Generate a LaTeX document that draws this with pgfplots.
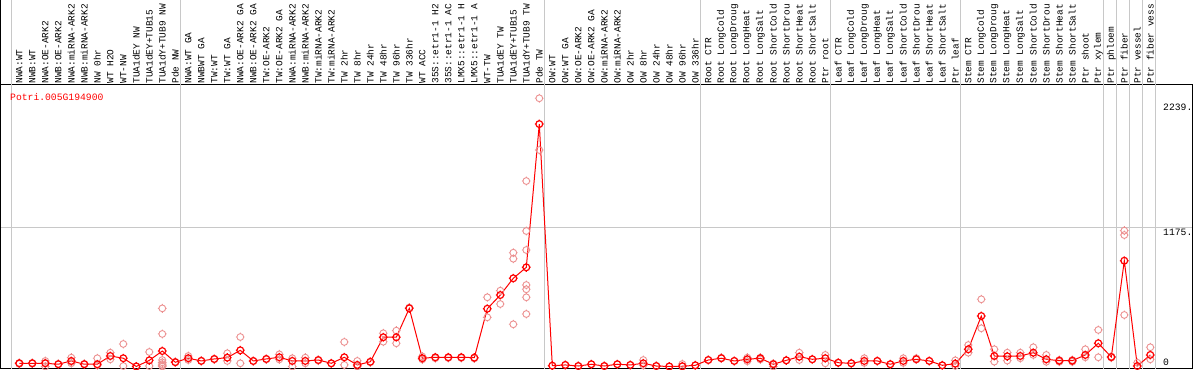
\documentclass[border=0pt]{standalone}
\usepackage{fontspec}
\setmainfont{Liberation Mono}
\usepackage{pgfplots}
\usepackage{pgfplotstable}
\pgfplotsset{compat=1.18}
\definecolor{rep}{RGB}{236,145,145}
\definecolor{gridc}{RGB}{200,200,200}
\pgfdeclareplotmark{sunc}{%
  \pgfpathcircle{\pgfpointorigin}{\pgfplotmarksize}%
  \pgfpathmoveto{\pgfqpoint{0pt}{\pgfplotmarksize}}\pgfpathlineto{\pgfqpoint{0pt}{1.3\pgfplotmarksize}}%
  \pgfpathmoveto{\pgfqpoint{0pt}{-\pgfplotmarksize}}\pgfpathlineto{\pgfqpoint{0pt}{-1.3\pgfplotmarksize}}%
  \pgfpathmoveto{\pgfqpoint{\pgfplotmarksize}{0pt}}\pgfpathlineto{\pgfqpoint{1.3\pgfplotmarksize}{0pt}}%
  \pgfpathmoveto{\pgfqpoint{-\pgfplotmarksize}{0pt}}\pgfpathlineto{\pgfqpoint{-1.3\pgfplotmarksize}{0pt}}%
  \pgfusepathqstroke}
\pgfplotstableread{
x y
0 27
1 27
2 27
3 19
4 47
5 19
6 19
7 89
8 70
9 0
10 52
11 131
12 36
13 70
14 47
15 64
16 75
17 137
18 47
19 64
20 78
21 47
22 47
23 55
24 27
25 78
26 13
27 40
28 248
29 248
30 493
31 70
32 78
33 78
34 78
35 75
36 490
37 606
38 748
39 841
40 2056
41 7
42 13
43 4
44 19
45 4
46 19
47 13
48 27
49 4
50 0
51 2
52 10
53 55
54 70
55 47
56 61
57 70
58 19
59 52
60 83
61 61
62 70
63 32
64 27
65 47
66 47
67 19
68 47
69 61
70 47
71 10
72 24
73 146
74 428
75 89
76 86
77 89
78 117
79 61
80 49
81 49
82 98
83 197
84 80
85 897
86 4
87 98
}\means
\pgfplotstableread{
x y
0 30
0 22
1 25
1 30
2 47
2 0
2 30
3 22
4 75
4 27
4 40
5 22
6 70
6 10
7 117
7 61
8 191
8 4
9 2
10 123
10 4
11 493
11 276
11 55
11 35
11 20
11 10
11 0
12 40
13 89
13 55
14 50
15 60
16 112
16 47
17 250
17 27
18 45
19 60
20 103
20 60
21 70
21 0
22 75
22 27
23 50
24 25
25 208
25 13
26 47
26 0
27 35
28 282
28 210
29 304
29 197
30 500
31 85
31 60
32 70
33 72
34 72
35 68
36 587
36 417
37 643
37 530
38 965
38 914
38 358
39 1573
39 1149
39 988
39 691
39 655
39 587
39 445
40 2275
40 1836
41 7
42 13
43 4
44 19
45 4
46 19
47 13
48 55
48 10
49 4
50 0
51 21
51 0
52 10
53 55
54 75
55 47
56 75
56 45
57 75
57 60
58 0
58 25
59 52
60 117
60 55
61 61
62 98
62 27
63 32
64 27
65 70
65 30
66 47
67 19
68 70
68 30
69 70
70 47
71 10
72 52
72 5
73 182
73 117
74 570
74 324
75 146
75 41
76 117
76 50
77 117
77 70
78 163
78 98
79 98
79 40
80 55
80 40
81 55
81 40
82 146
82 78
83 310
83 78
84 85
84 75
85 1152
85 1115
85 437
86 32
87 163
87 61
}\reps
\begin{document}
\begin{tikzpicture}
\begin{axis}[
  scale only axis, width=1191bp, height=284bp,
  xmin=-1.408, xmax=90.208, ymin=-21.2, ymax=2387.6,
  clip=false,
  axis line style={black, line width=1bp},
  major tick length=0pt,
  xtick={0,...,87},
  xticklabel pos=upper,
  xticklabels={NWA:WT,NWB:WT,NWA:OE-ARK2,NWB:OE-ARK2,NWA:miRNA-ARK2,NWB:miRNA-ARK2,NW 0hr,WT H2O,WT-NW,TUA1dEY NW,TUA1dEY+TUB15,TUA1dY+TUB9 NW,Pde NW,
    NWA:WT GA,NWBWT GA,TW:WT,TW:WT GA,NWA:OE-ARK2 GA,NWB:OE-ARK2 GA,TW:OE-ARK2,TW:OE-ARK2 GA,NWA:miRNA-ARK2,NWB:miRNA-ARK2,TW:miRNA-ARK2,TW:miRNA-ARK2,TW 2hr,TW 8hr,TW 24hr,TW 48hr,TW 96hr,TW 336hr,WT ACC,35S::etr1-1 H2,35S::etr1-1 AC,LMX5::etr1-1 H,LMX5::etr1-1 A,WT-TW,TUA1dEY TW,TUA1dEY+TUB15,TUA1dY+TUB9 TW,Pde TW,
    OW:WT,OW:WT GA,OW:OE-ARK2,OW:OE-ARK2 GA,OW:miRNA-ARK2,OW:miRNA-ARK2,OW 2hr,OW 8hr,OW 24hr,OW 48hr,OW 96hr,OW 336hr,
    Root CTR,Root LongCold,Root LongDroug,Root LongHeat,Root LongSalt,Root ShortCold,Root ShortDrou,Root ShortHeat,Root ShortSalt,Ptr root,
    Leaf CTR,Leaf LongCold,Leaf LongDroug,Leaf LongHeat,Leaf LongSalt,Leaf ShortCold,Leaf ShortDrou,Leaf ShortHeat,Leaf ShortSalt,Ptr leaf,
    Stem CTR,Stem LongCold,Stem LongDroug,Stem LongHeat,Stem LongSalt,Stem ShortCold,Stem ShortDrou,Stem ShortHeat,Stem ShortSalt,Ptr shoot,Ptr xylem,
    Ptr phloem,Ptr fiber,Ptr vessel,Ptr fiber vess},
  x tick label style={rotate=90, anchor=west, inner sep=1.2pt, font=\fontsize{9.5}{10}\selectfont},
  ytick={38,1138,2201},
  yticklabels={0,1175.,2239.},
  yticklabel pos=right,
  y tick label style={anchor=west, inner sep=0pt, xshift=-29bp, font=\fontsize{9.75}{10}\selectfont},
]
\coordinate (bl) at (rel axis cs:0,0);
\coordinate (tr) at (rel axis cs:1,1);
\draw[gridc, line width=1bp] (axis cs:-1.408,1175) -- (axis cs:90.208,1175);
\draw[gridc, line width=1bp] (axis cs:-0.6,-21.2) -- (axis cs:-0.6,3150);
\draw[gridc, line width=1bp] (axis cs:12.4,-21.2) -- (axis cs:12.4,3150);
\draw[gridc, line width=1bp] (axis cs:40.4,-21.2) -- (axis cs:40.4,3150);
\draw[gridc, line width=1bp] (axis cs:52.4,-21.2) -- (axis cs:52.4,3150);
\draw[gridc, line width=1bp] (axis cs:62.4,-21.2) -- (axis cs:62.4,3150);
\draw[gridc, line width=1bp] (axis cs:72.4,-21.2) -- (axis cs:72.4,3150);
\draw[gridc, line width=1bp] (axis cs:83.4,-21.2) -- (axis cs:83.4,3150);
\draw[gridc, line width=1bp] (axis cs:84.4,-21.2) -- (axis cs:84.4,3150);
\draw[gridc, line width=1bp] (axis cs:85.4,-21.2) -- (axis cs:85.4,3150);
\draw[gridc, line width=1bp] (axis cs:86.4,-21.2) -- (axis cs:86.4,3150);
\draw[gridc, line width=1bp] (axis cs:87.4,-21.2) -- (axis cs:87.4,3150);
\draw[black, line width=1bp] (rel axis cs:0,0) -- (rel axis cs:0,1.35);
\addplot[only marks, color=rep, mark=sunc, mark size=3.4bp, mark options={line width=0.9bp}] table {\reps};
\addplot[red, line width=1bp, mark=sunc, mark size=3.4bp, mark options={line width=1.2bp}] table {\means};
\node[red, anchor=base west, inner sep=0pt, font=\fontsize{9.75}{10}\selectfont] at (rel axis cs:0.00756,0.9437) {Potri.005G194900};
\end{axis}
\pgfresetboundingbox
\useasboundingbox ([xshift=-1bp,yshift=-1bp]bl) rectangle ([xshift=2bp,yshift=85bp]tr);
\end{tikzpicture}
\end{document}
